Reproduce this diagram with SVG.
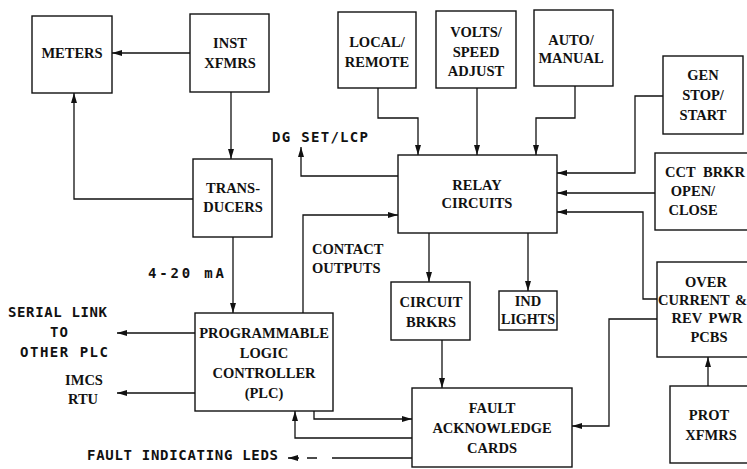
<svg xmlns="http://www.w3.org/2000/svg" width="747" height="469" viewBox="0 0 747 469">
<defs>
<marker id="ah" markerUnits="userSpaceOnUse" markerWidth="10" markerHeight="7" refX="10" refY="3.5" orient="auto">
<path d="M0,0.5 L10,3.5 L0,6.5 z" fill="#111"/>
</marker>
<style>
.box{fill:#fff;stroke:#111;stroke-width:1.4}
.c{fill:none;stroke:#111;stroke-width:1.3;marker-end:url(#ah)}
.t{font-family:"Liberation Serif",serif;font-weight:bold;font-size:14.5px;fill:#111;text-anchor:middle}
.s{font-family:"Liberation Serif",serif;font-weight:bold;font-size:14.5px;fill:#111}
.m{font-family:"DejaVu Sans Mono",monospace;font-weight:bold;font-size:14px;fill:#111}
</style>
</defs>
<rect width="747" height="469" fill="#fff"/>
<g id="connectors">
<path class="c" d="M190,53 L112,53"/>
<path class="c" d="M231,92 L231,159"/>
<path class="c" d="M193,199 L74,199 L74,93"/>
<path class="c" d="M233,237 L233,313"/>
<path class="c" d="M303,313 L303,215 L398,215"/>
<path class="c" d="M398,176 L301,176 L301,147"/>
<path class="c" d="M378,88 L378,118 L418,118 L418,155"/>
<path class="c" d="M477,88 L477,155"/>
<path class="c" d="M575,86 L575,118 L536,118 L536,155"/>
<path class="c" d="M663,96 L635,96 L635,173 L557,173"/>
<path class="c" d="M655,193 L557,193"/>
<path class="c" d="M657,299 L643,299 L643,212 L557,212"/>
<path class="c" d="M429,233 L429,282"/>
<path class="c" d="M528,233 L528,291"/>
<path class="c" d="M442,340 L442,388"/>
<path class="c" d="M657,319 L609,319 L609,426 L572,426"/>
<path class="c" d="M708,386 L708,357"/>
<path class="c" d="M314,411 L314,419 L412,419"/>
<path class="c" d="M412,438 L295,438 L295,411"/>
<path class="c" d="M412,458 L288,458" stroke-dasharray="80 15 10 8 20"/>
<path class="c" d="M195,333 L117,333"/>
<path class="c" d="M195,393 L117,393"/>
</g>
<g id="meters"><rect class="box" x="32" y="16" width="80" height="77"/><text class="t" x="72" y="58">METERS</text></g>
<g id="inst-xfmrs"><rect class="box" x="190" y="14" width="79" height="78"/><text class="t" x="230" y="48">INST</text><text class="t" x="230" y="68">XFMRS</text></g>
<g id="transducers"><rect class="box" x="193" y="159" width="79" height="78"/><text class="t" x="233" y="193">TRANS-</text><text class="t" x="233" y="212">DUCERS</text></g>
<g id="local-remote"><rect class="box" x="338" y="12" width="78" height="76"/><text class="t" x="377" y="47">LOCAL/</text><text class="t" x="377" y="67">REMOTE</text></g>
<g id="volts-speed"><rect class="box" x="436" y="11" width="80" height="77"/><text class="t" x="476" y="37">VOLTS/</text><text class="t" x="476" y="57">SPEED</text><text class="t" x="476" y="76">ADJUST</text></g>
<g id="auto-manual"><rect class="box" x="534" y="10" width="79" height="76"/><text class="t" x="571" y="45">AUTO/</text><text class="t" x="571" y="63">MANUAL</text></g>
<g id="gen-stop-start"><rect class="box" x="663" y="56" width="80" height="78"/><text class="t" x="703" y="80">GEN</text><text class="t" x="703" y="100">STOP/</text><text class="t" x="703" y="120">START</text></g>
<g id="relay-circuits"><rect class="box" x="398" y="155" width="159" height="78"/><text class="t" x="477" y="190">RELAY</text><text class="t" x="477" y="208">CIRCUITS</text></g>
<g id="cct-brkr"><rect class="box" x="655" y="153" width="100" height="77"/><text class="s" x="665" y="177" word-spacing="4">CCT BRKR</text><text class="t" x="693" y="196">OPEN/</text><text class="t" x="693" y="215">CLOSE</text></g>
<g id="over-current"><rect class="box" x="657" y="262" width="100" height="95"/><text class="t" x="706" y="287">OVER</text><text class="s" x="658" y="305" word-spacing="2">CURRENT &amp;</text><text class="t" x="707" y="323" word-spacing="3">REV PWR</text><text class="t" x="709" y="342">PCBS</text></g>
<g id="circuit-brkrs"><rect class="box" x="391" y="282" width="79" height="58"/><text class="t" x="431" y="307">CIRCUIT</text><text class="t" x="431" y="327">BRKRS</text></g>
<g id="ind-lights"><rect class="box" x="499" y="291" width="58" height="39"/><text class="t" x="528" y="306">IND</text><text class="t" x="528" y="324" textLength="54" lengthAdjust="spacingAndGlyphs">LIGHTS</text></g>
<g id="fault-ack"><rect class="box" x="412" y="388" width="160" height="79"/><text class="t" x="492" y="413">FAULT</text><text class="t" x="492" y="433">ACKNOWLEDGE</text><text class="t" x="492" y="453">CARDS</text></g>
<g id="prot-xfmrs"><rect class="box" x="670" y="386" width="90" height="77"/><text class="t" x="709" y="420">PROT</text><text class="t" x="711" y="440">XFMRS</text></g>
<g id="plc"><rect class="box" x="195" y="313" width="138" height="98"/><text class="t" x="264" y="338">PROGRAMMABLE</text><text class="t" x="264" y="358">LOGIC</text><text class="t" x="264" y="378">CONTROLLER</text><text class="t" x="264" y="398">(PLC)</text></g>
<g id="labels">
<text class="m" x="272" y="142" textLength="96" lengthAdjust="spacing">DG SET/LCP</text>
<text class="m" x="148" y="278" textLength="76" lengthAdjust="spacing">4-20 mA</text>
<text class="s" x="312" y="254">CONTACT</text>
<text class="s" x="312" y="273">OUTPUTS</text>
<text class="m" x="8" y="317" textLength="99" lengthAdjust="spacing">SERIAL LINK</text>
<text class="m" x="50" y="337" textLength="18" lengthAdjust="spacing">TO</text>
<text class="m" x="20" y="357" textLength="88" lengthAdjust="spacing">OTHER PLC</text>
<text class="t" x="84" y="385">IMCS</text>
<text class="t" x="83" y="404">RTU</text>
<text class="m" x="87" y="460" textLength="191" lengthAdjust="spacing">FAULT INDICATING LEDS</text>
</g>
</svg>
